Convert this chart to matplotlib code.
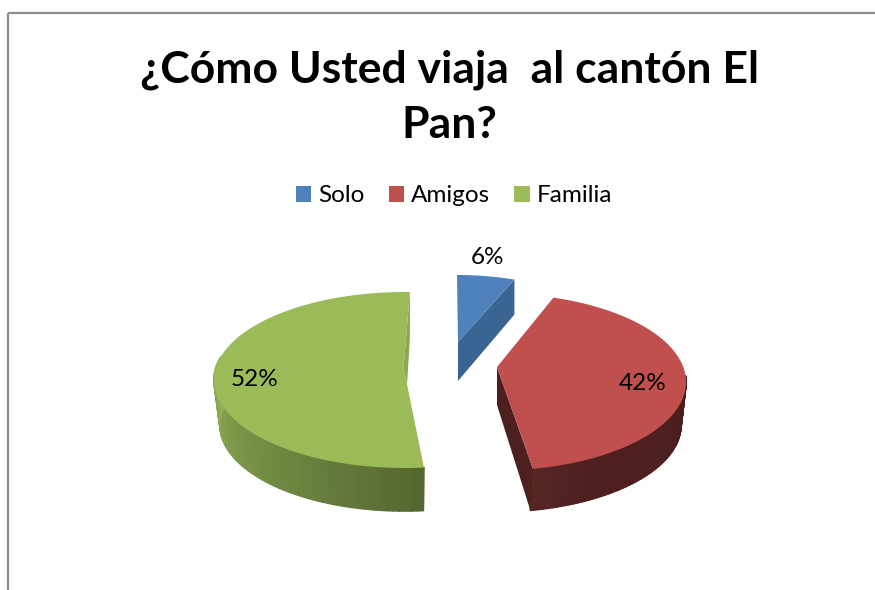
import numpy as np
import matplotlib
matplotlib.use('Agg')
import matplotlib.pyplot as plt
from matplotlib.collections import PolyCollection
from matplotlib.patches import Patch, Rectangle

plt.rcParams['font.family'] = ['Lato', 'DejaVu Sans']

labels = ['Solo', 'Amigos', 'Familia']
values = [6, 42, 52]
title = '¿Cómo Usted viaja  al cantón El\nPan?'

top_colors = ['#4F81BD', '#C0504D', '#9BBB59']
cut_colors = ['#3A6491', '#4D1F1F', '#8AA84E']

# pie geometry in picture pixels, one entry for each slice
top_ell = [(457, 340, 156, 65), (496, 382, 190, 88.5), (405, 380, 191, 88)]
bot_ell = [(457, 375, 156, 65), (494, 425, 187, 87), (405, 425, 185, 86)]
apex = [(458, 342), (497, 367), (403.5, 367)]
apex_low = [(458, 381), (497, 405), (407, 385)]
rotation = [0, -4, 1.5]
label_pos = [(487, 257), (643, 384), (255, 380)]


def ell_xy(ell, t):
    cx, cy, rx, ry = ell
    t = np.radians(t)
    return cx + rx * np.sin(t), cy - ry * np.cos(t)


def side_faces(ax, top, bot, t0, t1, stops, colors):
    ts = np.linspace(t0, t1, 60)
    rgb = np.array([matplotlib.colors.to_rgb(c) for c in colors])
    polys = []
    cols = []
    for a, b in zip(ts[:-1], ts[1:]):
        polys.append([ell_xy(top, a), ell_xy(top, b), ell_xy(bot, b), ell_xy(bot, a)])
        m = (a + b) / 2
        cols.append([np.interp(m, stops, rgb[:, i]) for i in range(3)])
    ax.add_collection(PolyCollection(polys, facecolors=cols, edgecolors=cols, linewidths=1.2))


fig = plt.figure(figsize=(8.75, 5.9), dpi=100)
ax = fig.add_axes([0, 0, 1, 1])
ax.set_xlim(0, 875)
ax.set_ylim(590, 0)
ax.axis('off')

# chart frame, runs off the right and bottom of the picture
ax.add_patch(Rectangle((8, 13), 900, 620, fill=False, edgecolor='#8C8C8C', linewidth=1.6))

ax.text(449, 97, title, ha='center', va='center', fontsize=32, fontweight='bold',
        color='black', linespacing=1.44)

handles = [Patch(facecolor=c, label=l) for c, l in zip(top_colors, labels)]
ax.legend(handles=handles, ncol=3, loc='center', bbox_to_anchor=(454 / 875, 1 - 196 / 590),
          frameon=False, fontsize=17.5, handlelength=0.62, handleheight=0.6,
          handletextpad=0.3, columnspacing=1.0)

shares = np.array(values) / sum(values) * 360
starts = np.concatenate([[0], np.cumsum(shares)[:-1]])

# outer walls
side_faces(ax, top_ell[1], bot_ell[1], 86, starts[1] + shares[1] + rotation[1],
           [86, 120, 150, 169], ['#481C1C', '#4D1F1F', '#4D1F1F', '#572725'])
side_faces(ax, top_ell[2], bot_ell[2], starts[2] + rotation[2], 285,
           [174, 215, 250, 285], ['#55652F', '#6C8440', '#7F9A4B', '#93B057'])

for i in range(3):
    t0 = starts[i] + rotation[i]
    t1 = t0 + shares[i]
    # cut face that can be seen after the slice is pulled out
    cx, cy = ell_xy(top_ell[i], t1)
    bx, by = ell_xy(bot_ell[i], t1)
    ax.fill([apex[i][0], cx, bx, apex_low[i][0]], [apex[i][1], cy, by, apex_low[i][1]],
            color=cut_colors[i], linewidth=0)
    # top face
    ts = np.linspace(t0, t1, 120)
    xs, ys = ell_xy(top_ell[i], ts)
    ax.fill(np.r_[apex[i][0], xs], np.r_[apex[i][1], ys], color=top_colors[i], linewidth=0)

for v, (x, y) in zip(values, label_pos):
    ax.text(x, y, '{}%'.format(v), ha='center', va='center', fontsize=17.5, color='black')

fig.savefig('out.png', dpi=100)
